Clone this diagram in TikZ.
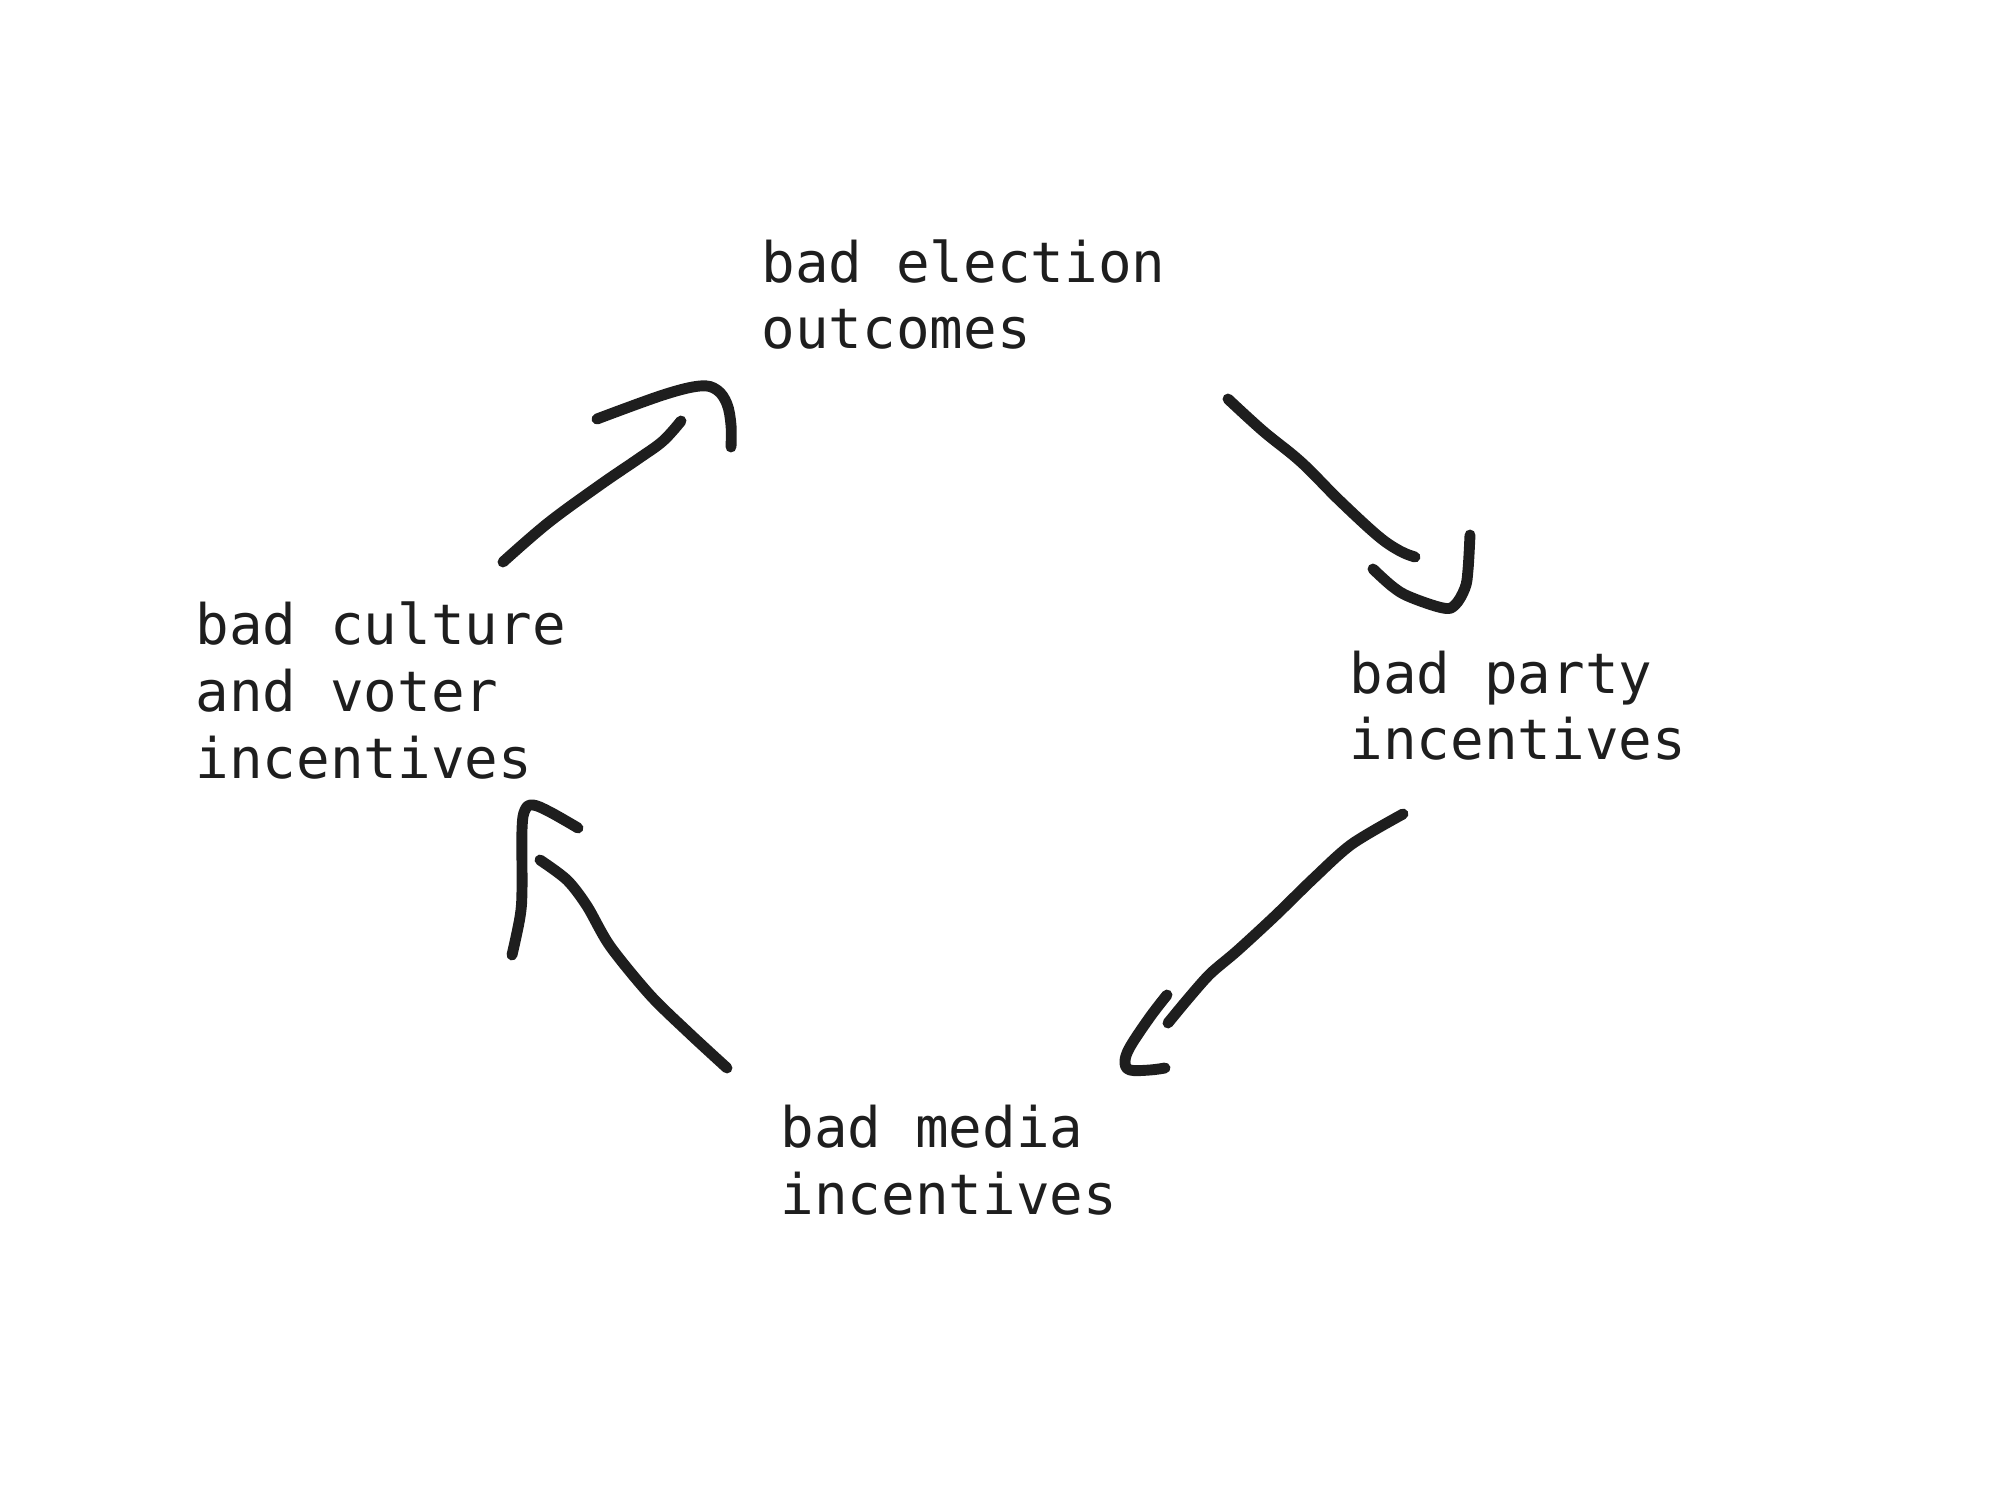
\documentclass[tikz,border=0pt]{standalone}
\usepackage{fontspec}
\newfontfamily\cyclefont{DejaVu Sans Mono}
\usetikzlibrary{positioning}
\definecolor{ink}{HTML}{1E1E1E}
\tikzset{
    stage/.style={font=\cyclefont\fontsize{15.9pt}{19pt}\selectfont,
                  text=ink, align=left, inner sep=0pt, anchor=base west},
    stroke/.style={draw=ink, line width=3.1pt, line cap=round, line join=round},
    shaft/.style={stroke},
    hook/.style={stroke},
}

\begin{document}
\begin{tikzpicture}[x=0.1mm, y=-0.1mm]
    \path[use as bounding box] (0,0) rectangle (2000,1500);

    % the four stages of the loop (anchored on the last line)
    \node[stage] (election) at (761,349) {bad election\\outcomes};
    \node[stage] (party) at (1349,760) {bad party\\incentives};
    \node[stage] (media) at (780,1214) {bad media\\incentives};
    \node[stage] (culture) at (195,778) {bad culture\\and voter\\incentives};

    % hand drawn arrows, shaft first then the hook
    \coordinate (cultureout) at (503,562);
    \coordinate (electionin) at (681,421);
    \draw[shaft] plot[smooth, tension=0.6] coordinates
        {(cultureout) (548,523) (600,485) (638,459) (663,441) (electionin)};
    \draw[hook] plot[smooth, tension=0.6] coordinates
        {(597,419) (663,395) (700,386) (717,390) (727,404) (731,425) (731,447)};

    \coordinate (electionout) at (1228,399);
    \coordinate (partyin) at (1415,557);
    \draw[shaft] plot[smooth, tension=0.6] coordinates
        {(electionout) (1263,431) (1301,462) (1339,500) (1378,536) (1400,551) (partyin)};
    \draw[hook] plot[smooth, tension=0.6] coordinates
        {(1373,569) (1393,587) (1410,597) (1443,608) (1455,605) (1465,588) (1468,570) (1470,535)};

    \coordinate (partyout) at (1403,814);
    \coordinate (mediain) at (1168,1023);
    \draw[shaft] plot[smooth, tension=0.5] coordinates
        {(partyout) (1352,844) (1314,878) (1275,916) (1237,951) (1210,974) (1187,1000) (mediain)};
    \draw[hook] plot[smooth, tension=0.6] coordinates
        {(1167,995) (1150,1017) (1130,1047) (1125,1062) (1130,1070) (1150,1070) (1165,1068)};

    \coordinate (mediaout) at (727,1068);
    \coordinate (culturein) at (540,860);
    \draw[shaft] plot[smooth, tension=0.5] coordinates
        {(mediaout) (689,1033) (650,995) (610,946) (587,906) (567,880) (culturein)};
    \draw[hook] plot[smooth, tension=0.6] coordinates
        {(512,955) (520,917) (522,890) (522,830) (525,810) (533,805) (550,812) (578,828)};

\end{tikzpicture}
\end{document}
